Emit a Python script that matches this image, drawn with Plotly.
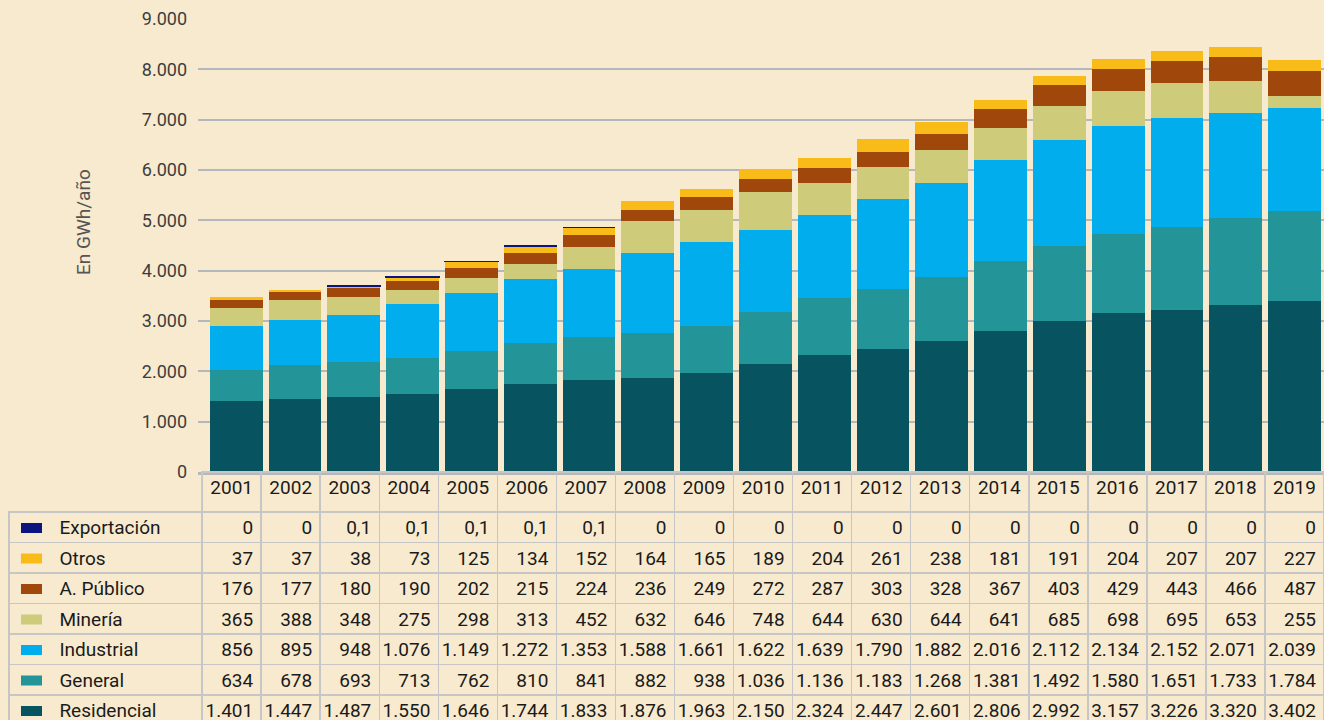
import plotly.graph_objects as go

years = [str(y) for y in range(2001, 2020)]

residencial = [1401, 1447, 1487, 1550, 1646, 1744, 1833, 1876, 1963, 2150, 2324, 2447, 2601, 2806, 2992, 3157, 3226, 3320, 3402]
general = [634, 678, 693, 713, 762, 810, 841, 882, 938, 1036, 1136, 1183, 1268, 1381, 1492, 1580, 1651, 1733, 1784]
industrial = [856, 895, 948, 1076, 1149, 1272, 1353, 1588, 1661, 1622, 1639, 1790, 1882, 2016, 2112, 2134, 2152, 2071, 2039]
mineria = [365, 388, 348, 275, 298, 313, 452, 632, 646, 748, 644, 630, 644, 641, 685, 698, 695, 653, 255]
a_publico = [176, 177, 180, 190, 202, 215, 224, 236, 249, 272, 287, 303, 328, 367, 403, 429, 443, 466, 487]
otros = [37, 37, 38, 73, 125, 134, 152, 164, 165, 189, 204, 261, 238, 181, 191, 204, 207, 207, 227]
exportacion = [0, 0, 0.1, 0.1, 0.1, 0.1, 0.1, 0, 0, 0, 0, 0, 0, 0, 0, 0, 0, 0, 0]

series_names = ["Residencial", "General", "Industrial", "Minería", "A. Público", "Otros", "Exportación"]
series_values = [residencial, general, industrial, mineria, a_publico, otros, exportacion]
colors = ["#085360", "#239497", "#01ADED", "#CECC7B", "#A0480C", "#F8BB18", "#0A1580"]

y_ticks = [0, 1000, 2000, 3000, 4000, 5000, 6000, 7000, 8000, 9000]

W, H = 1324, 720
BG = "#F8EACF"
GRID = "#B4B8BC"
LINE = "#C6C6C6"

# table geometry (pixels from top of page)
TABLE_TOP = 472
HEADER_H = 40
ROW_H = 30.5


def fmt(v):
    if v == 0:
        return "0"
    if float(v).is_integer():
        return f"{int(v):,}".replace(",", ".")
    return str(v).replace(".", ",")


fig = go.Figure()

for name, vals, col in zip(series_names, series_values, colors):
    if name == "Exportación":
        line = dict(color=col, width=[1.5 if v > 0 else 0 for v in vals])
    else:
        line = dict(width=0)
    fig.add_trace(go.Bar(
        x=years, y=vals, name=name, marker_color=col, marker_line=line,
        showlegend=False, xaxis="x", yaxis="y",
    ))

# Data table below the chart (rows listed top to bottom)
rows_top_to_bottom = list(zip(series_names, series_values, colors))[::-1]
pad = "\u00a0" * 9
first_col = [pad + n for n, _, _ in rows_top_to_bottom]
columns = [first_col]
for i in range(len(years)):
    columns.append([fmt(vals[i]) for _, vals, _ in rows_top_to_bottom])

fig.add_trace(go.Table(
    domain=dict(x=[9 / W, 1.0], y=[0.0, (H - TABLE_TOP) / H]),
    columnwidth=[193] + [59] * len(years),
    header=dict(
        values=[""] + years,
        fill_color="rgba(0,0,0,0)",
        line=dict(color=["rgba(0,0,0,0)"] + [LINE] * len(years), width=1.5),
        align="center",
        height=HEADER_H,
        font=dict(family="Roboto", size=19, color="#1a1a1a"),
    ),
    cells=dict(
        values=columns,
        fill_color="rgba(0,0,0,0)",
        line=dict(color=LINE, width=1.5),
        align=["left"] + ["right"] * len(years),
        height=ROW_H,
        font=dict(family="Roboto", size=19, color="#1a1a1a"),
    ),
))

# legend swatches inside the table's first column
shapes = []
for i, (_, _, col) in enumerate(rows_top_to_bottom):
    cy = TABLE_TOP + HEADER_H + ROW_H * i + 16
    shapes.append(dict(
        type="rect", xref="paper", yref="paper", layer="above",
        x0=21 / W, x1=42 / W, y0=(H - cy - 5) / H, y1=(H - cy + 5) / H,
        fillcolor=col, line=dict(width=0),
    ))

fig.update_layout(
    width=W,
    height=H,
    margin=dict(l=0, r=0, t=0, b=0),
    paper_bgcolor=BG,
    plot_bgcolor=BG,
    barmode="stack",
    bargap=0.1,
    separators=",.",
    font=dict(family="Roboto", color="#444444"),
    shapes=shapes,
    xaxis=dict(
        domain=[198 / W, 1.0],
        type="category",
        range=[-0.65, 18.5],
        showticklabels=False,
        showgrid=False,
        showline=True,
        linecolor=GRID,
        linewidth=2.5,
        ticks="",
        automargin=False,
        fixedrange=True,
    ),
    yaxis=dict(
        domain=[(H - 472) / H, (H - 19) / H],
        range=[0, 9000],
        tickvals=y_ticks,
        tickformat=",d",
        showgrid=True,
        gridcolor=GRID,
        gridwidth=2,
        zeroline=False,
        ticks="",
        ticklabelstandoff=10,
        automargin=False,
        tickfont=dict(family="Roboto", size=18, color="#3d3d3d"),
        fixedrange=True,
    ),
    annotations=[dict(
        text="En GWh/año", xref="paper", yref="paper",
        x=83 / W, y=(H - 222) / H, showarrow=False, textangle=-90,
        font=dict(family="Roboto", size=19, color="#555555"),
        xanchor="center", yanchor="middle",
    )],
)

post = (
    "document.body.style.margin='0';"
    "var s=document.createElement('style');"
    "s.textContent='.scrollbar-kit{display:none !important;}';"
    "document.head.appendChild(s);"
)
fig.write_html("out.html", config={"displayModeBar": False}, post_script=post)
